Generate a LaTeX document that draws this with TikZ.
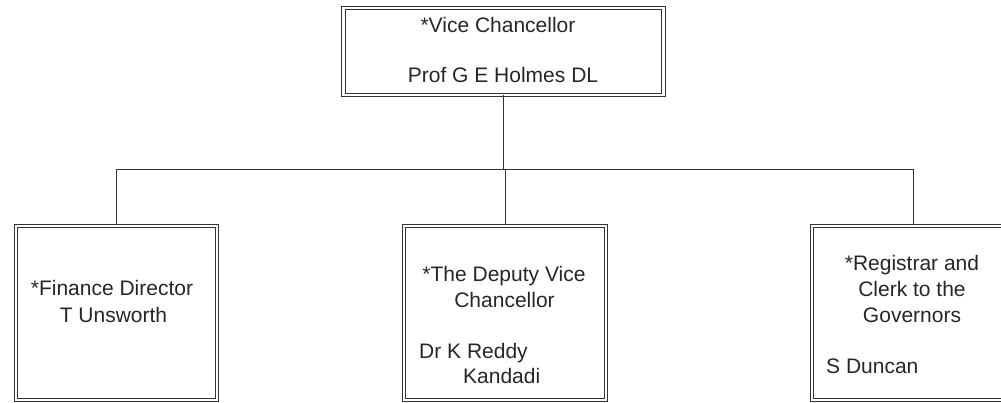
\documentclass[tikz,border=0pt]{standalone}
\usepackage{fontspec}
\setmainfont{Liberation Sans}
\usepackage{tikz}

\begin{document}
\begin{tikzpicture}[x=1pt, y=-1pt]
\tikzstyle{post}=[rectangle, draw=black!80, line width=1pt, double, double distance=2.4pt, inner sep=0pt]
\tikzstyle{txt}=[inner sep=0pt, text=black!85, font=\fontsize{21}{25}\selectfont]
\useasboundingbox (0,0) rectangle (1001,403);

% boxes
\node[post, minimum width=320pt, minimum height=87pt] (vc) at (503.5,51.5) {};
\node[post, minimum width=201pt, minimum height=174pt] (fd) at (116.5,313) {};
\node[post, minimum width=202pt, minimum height=174pt] (dvc) at (505,313) {};
\node[post, minimum width=202pt, minimum height=174pt] (rg) at (913,313) {};

% texts
\node[txt, anchor=base] (vct) at (498,33) {*Vice Chancellor};
\node[txt, anchor=base] (vcn) at (503,83) {Prof G E Holmes DL};
\node[txt, anchor=base] (fdt) at (112,296) {*Finance Director};
\node[txt, anchor=base] (fdn) at (113.5,323) {T Unsworth};
\node[txt, anchor=base] (dvct) at (504,282) {*The Deputy Vice};
\node[txt, anchor=base] (dvcu) at (504.5,307) {Chancellor};
\node[txt, anchor=base west] (dvcn) at (419,358) {Dr K Reddy};
\node[txt, anchor=base west] (dvcm) at (463,383) {Kandadi};
\node[txt, anchor=base] (rgt) at (912,271) {*Registrar and};
\node[txt, anchor=base] (rgu) at (912,297) {Clerk to the};
\node[txt, anchor=base] (rgv) at (912,322) {Governors};
\node[txt, anchor=base west] (rgn) at (826,373) {S Duncan};

% connectors
\coordinate (bus) at (504,170);
\draw[black!80, line width=1pt] (vc.south) -- (vc.south |- bus);
\draw[black!80, line width=1pt] (fd.north) -- (fd.north |- bus) -- (rg.north |- bus) -- (rg.north);
\draw[black!80, line width=1pt] (dvc.north) -- (dvc.north |- bus);
\end{tikzpicture}
\end{document}
